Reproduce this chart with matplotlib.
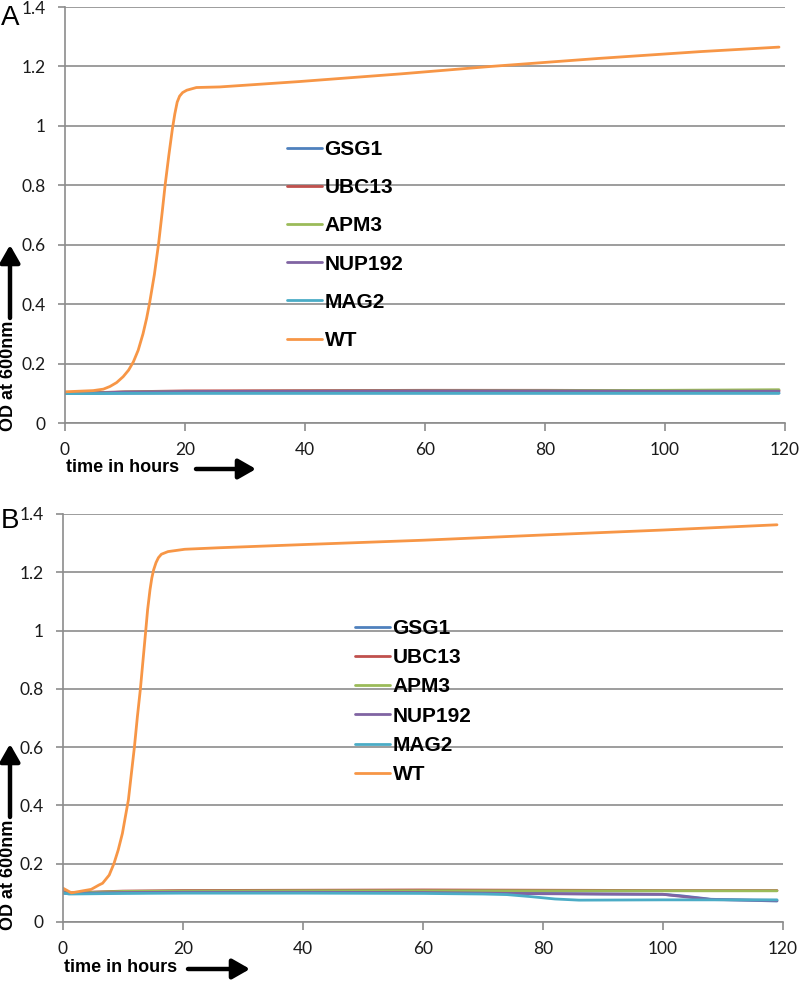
import matplotlib
matplotlib.use("Agg")
import matplotlib.pyplot as plt
from matplotlib.patches import FancyArrowPatch

# ---------------- data ----------------
series_names = ["GSG1", "UBC13", "APM3", "NUP192", "MAG2", "WT"]
series_colors = ["#4F81BD", "#C0504D", "#9BBB59", "#8064A2", "#4BACC6", "#F79646"]

x_ticks = [0, 20, 40, 60, 80, 100, 120]
y_ticks = [0, 0.2, 0.4, 0.6, 0.8, 1.0, 1.2, 1.4]
y_tick_labels = ["0", "0.2", "0.4", "0.6", "0.8", "1", "1.2", "1.4"]

# Panel A
a_base_hours = [0, 5, 10, 20, 40, 60, 80, 100, 119]
a_gsg1 = [0.100, 0.100, 0.100, 0.101, 0.101, 0.101, 0.101, 0.101, 0.101]
a_ubc13 = [0.100, 0.102, 0.105, 0.108, 0.109, 0.110, 0.110, 0.109, 0.109]
a_apm3 = [0.100, 0.101, 0.104, 0.106, 0.107, 0.108, 0.109, 0.110, 0.112]
a_nup192 = [0.100, 0.101, 0.104, 0.106, 0.107, 0.108, 0.108, 0.107, 0.107]
a_mag2 = [0.099, 0.099, 0.100, 0.100, 0.100, 0.100, 0.100, 0.100, 0.100]
a_wt_hours = [0, 4.7, 6.4, 7.5, 8.6, 9.7, 10.6, 11.4, 12.2, 13.0, 13.6, 14.1, 14.9,
              15.6, 16.2, 16.7, 17.3, 17.9, 18.3, 18.7, 19.1, 19.6, 20.3, 21.9,
              25.8, 39, 56, 71, 89, 106, 119]
a_wt = [0.105, 0.109, 0.114, 0.123, 0.136, 0.156, 0.178, 0.206, 0.245, 0.300,
        0.352, 0.404, 0.500, 0.604, 0.710, 0.803, 0.900, 0.990, 1.040, 1.080,
        1.100, 1.112, 1.120, 1.129, 1.131, 1.149, 1.175, 1.200, 1.227, 1.250, 1.265]

# Panel B
b_base_hours = [0, 1, 10, 20, 40, 60, 80, 100, 119]
b_ubc13 = [0.105, 0.100, 0.106, 0.108, 0.109, 0.110, 0.109, 0.108, 0.108]
b_apm3 = [0.100, 0.099, 0.105, 0.106, 0.107, 0.107, 0.107, 0.107, 0.107]
b_drop_hours = [0, 1, 10, 20, 40, 60, 70, 80, 90, 100, 103, 108, 119]
b_gsg1 = [0.100, 0.098, 0.100, 0.102, 0.102, 0.101, 0.100, 0.098, 0.096, 0.095,
          0.090, 0.078, 0.072]
b_nup192 = [0.100, 0.098, 0.101, 0.102, 0.102, 0.101, 0.099, 0.097, 0.096, 0.095,
            0.088, 0.077, 0.074]
b_mag2_hours = [0, 1, 10, 20, 40, 60, 70, 74, 78, 82, 86, 100, 119]
b_mag2 = [0.100, 0.096, 0.098, 0.099, 0.099, 0.098, 0.096, 0.094, 0.087, 0.079,
          0.075, 0.076, 0.076]
b_wt_hours = [0, 1.4, 4.7, 6.0, 6.6, 7.7, 8.5, 9.2, 9.9, 10.4, 10.9, 11.4, 11.9,
              12.4, 12.9, 13.3, 13.8, 14.1, 14.5, 14.8, 15.1, 15.5, 15.9, 16.4,
              17.5, 20.3, 25.8, 40, 60, 80, 100, 119]
b_wt = [0.116, 0.100, 0.112, 0.127, 0.133, 0.161, 0.201, 0.247, 0.304, 0.362,
        0.419, 0.510, 0.600, 0.705, 0.800, 0.890, 1.002, 1.071, 1.140, 1.180,
        1.208, 1.233, 1.250, 1.262, 1.271, 1.279, 1.284, 1.295, 1.310, 1.328,
        1.345, 1.363]

panel_a = [(a_base_hours, a_gsg1), (a_base_hours, a_ubc13), (a_base_hours, a_apm3),
           (a_base_hours, a_nup192), (a_base_hours, a_mag2), (a_wt_hours, a_wt)]
panel_b = [(b_drop_hours, b_gsg1), (b_base_hours, b_ubc13), (b_base_hours, b_apm3),
           (b_drop_hours, b_nup192), (b_mag2_hours, b_mag2), (b_wt_hours, b_wt)]

# ---------------- figure ----------------
W, H = 800, 981
fig = plt.figure(figsize=(W / 100, H / 100), dpi=100)

GRID = "#8c8c8c"
TICKFONT = "Lato"
BOLDFONT = "Liberation Sans"


def fx(px):
    return px / W


def fy(py):
    return 1 - py / H


def setup_axes(ax):
    ax.set_xlim(0, 120)
    ax.set_ylim(0, 1.4)
    ax.set_xticks(x_ticks)
    ax.set_yticks(y_ticks)
    ax.set_yticklabels(y_tick_labels)
    ax.yaxis.grid(True, color=GRID, lw=1.2)
    ax.set_axisbelow(True)
    for s in ["top", "right"]:
        ax.spines[s].set_visible(False)
    for s in ["left", "bottom"]:
        ax.spines[s].set_color(GRID)
        ax.spines[s].set_linewidth(1.2)
    ax.tick_params(axis="y", direction="out", length=5, width=1.2, color=GRID,
                   pad=9, labelsize=12.5, labelcolor="#1a1a1a")
    ax.tick_params(axis="x", direction="out", length=6, width=1.2, color=GRID,
                   pad=8, labelsize=12.5, labelcolor="#1a1a1a")
    for lab in ax.get_xticklabels() + ax.get_yticklabels():
        lab.set_fontfamily(TICKFONT)
    ax.patch.set_alpha(0)


def draw_panel(ax, data, legend_left, legend_top, labelspacing):
    handles = []
    for (hrs, vals), name, col in zip(data, series_names, series_colors):
        ln, = ax.plot(hrs, vals, color=col, lw=2.0, label=name,
                      solid_capstyle="round", solid_joinstyle="round")
        handles.append(ln)
    leg = ax.legend(handles=handles, loc="upper left",
                    bbox_to_anchor=(fx(legend_left), fy(legend_top)),
                    bbox_transform=fig.transFigure, frameon=False,
                    borderpad=0, borderaxespad=0, handlelength=1.7,
                    handletextpad=0.1, labelspacing=labelspacing,
                    prop={"family": BOLDFONT, "weight": "bold", "size": 15})
    return leg


def arrow(p0, p1):
    a = FancyArrowPatch((fx(p0[0]), fy(p0[1])), (fx(p1[0]), fy(p1[1])),
                        transform=fig.transFigure,
                        arrowstyle="-|>,head_width=4,head_length=7",
                        lw=3.2, color="black", mutation_scale=1.5,
                        shrinkA=0, shrinkB=0)
    fig.patches.append(a)


# Panel A
axA = fig.add_axes([fx(65), fy(423), 720 / W, 416 / H])
setup_axes(axA)
draw_panel(axA, panel_a, 287, 140, 0.92)

# Panel B
axB = fig.add_axes([fx(63), fy(922), 720 / W, 408 / H])
setup_axes(axB)
draw_panel(axB, panel_b, 355, 619, 0.49)

# Panel letters
fig.text(fx(1), fy(18), "A", fontsize=20, family=BOLDFONT, ha="left", va="center")
fig.text(fx(1), fy(521), "B", fontsize=20, family=BOLDFONT, ha="left", va="center")

# Axis labels with arrows
fig.text(fx(9), fy(376), "OD at 600nm", rotation=90, fontsize=13,
         fontweight="bold", family=BOLDFONT, ha="center", va="center")
fig.text(fx(9), fy(875), "OD at 600nm", rotation=90, fontsize=13,
         fontweight="bold", family=BOLDFONT, ha="center", va="center")
arrow((10, 318), (10, 245))
arrow((10, 817), (10, 744))

fig.text(fx(66), fy(467), "time in hours", fontsize=13, fontweight="bold",
         family=BOLDFONT, ha="left", va="center")
fig.text(fx(64), fy(968), "time in hours", fontsize=13, fontweight="bold",
         family=BOLDFONT, ha="left", va="center")
arrow((196, 469), (256, 469))
arrow((188, 969), (250, 969))

fig.savefig("out.png", dpi=100)
